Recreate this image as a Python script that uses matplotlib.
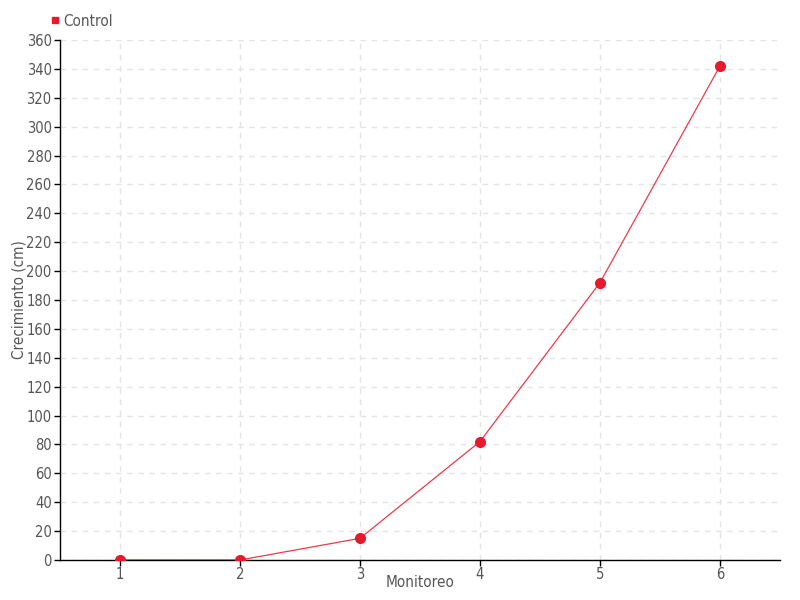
import matplotlib
matplotlib.use('Agg')
import matplotlib.pyplot as plt
from matplotlib.lines import Line2D

# data
monitoreo = [1, 2, 3, 4, 5, 6]
control = [0, 0, 15, 82, 192, 342]
y_ticks = list(range(0, 361, 20))

plt.rcParams['font.family'] = ['DejaVu Sans']
plt.rcParams['font.stretch'] = 'condensed'

red = '#e8192c'
text_col = '#555555'

fig = plt.figure(figsize=(8, 6), dpi=100)
ax = fig.add_axes([0.075, 0.0667, 0.9, 0.8667])

ax.plot(monitoreo, control, color=red, lw=0.9, alpha=0.85)
ax.plot(monitoreo, control, 'o', color=red, ms=7, mec=red, zorder=3)

ax.set_xlim(0.5, 6.5)
ax.set_ylim(0, 360)
ax.set_xticks(monitoreo)
ax.set_yticks(y_ticks)

ax.grid(True, color='#e4e4e4', ls=(0, (4, 4)), lw=1)
ax.set_axisbelow(True)
for s in ['top', 'right']:
    ax.spines[s].set_visible(False)
for s in ['left', 'bottom']:
    ax.spines[s].set_color('black')
    ax.spines[s].set_linewidth(1)

ax.tick_params(axis='both', length=4, width=1, color='black',
               labelcolor=text_col, labelsize=10.5)
ax.tick_params(axis='y', pad=2)
ax.tick_params(axis='x', pad=1)

ax.set_xlabel('Monitoreo', color=text_col, fontsize=11)
ax.xaxis.set_label_coords(0.5, -0.029)
ax.set_ylabel('Crecimiento (cm)', color=text_col, fontsize=11)
ax.yaxis.set_label_coords(-0.046, 0.5)

handle = Line2D([], [], ls='none', marker='s', color=red, ms=5)
fig.legend([handle], ['Control'], loc='upper left', bbox_to_anchor=(0.05, 0.995),
           frameon=False, fontsize=11, labelcolor=text_col,
           handlelength=0.6, handletextpad=0.2, borderpad=0.2)

fig.savefig('out.png', dpi=100)
